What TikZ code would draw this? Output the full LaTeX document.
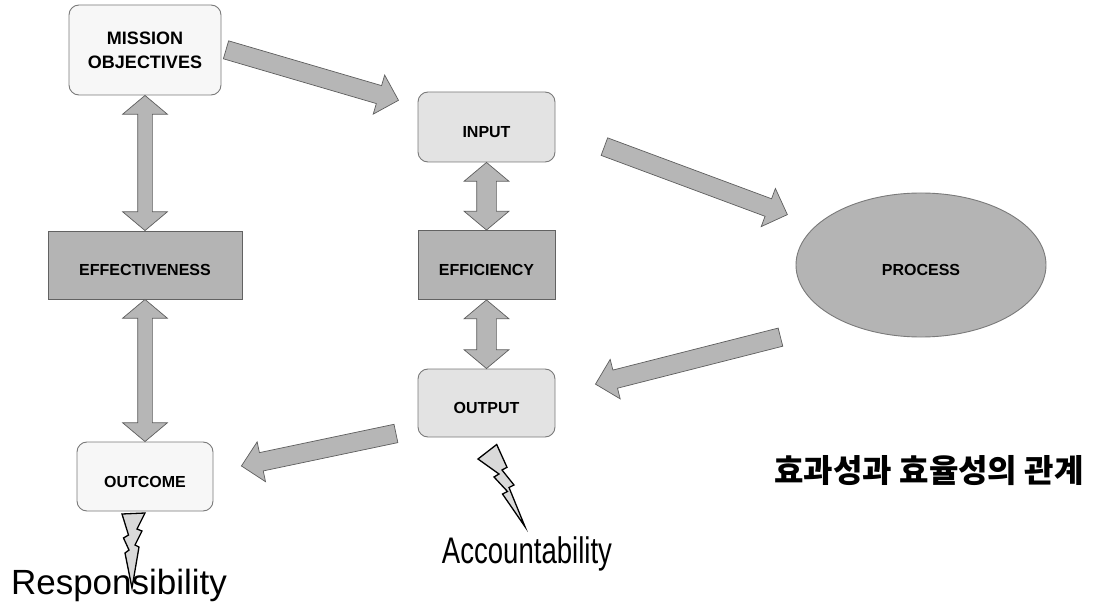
\documentclass[tikz,border=0pt]{standalone}
\usepackage{fontspec}
\setmainfont{Liberation Sans}
\newfontfamily\kr{Noto Sans CJK KR}
\newfontfamily\narrowA{Liberation Sans}[FakeStretch=0.745]
\usetikzlibrary{shapes.geometric,shapes.arrows,calc}
\definecolor{paleFill}{HTML}{F7F7F7}
\definecolor{lightFill}{HTML}{E3E3E3}
\definecolor{darkFill}{HTML}{B4B4B4}
\definecolor{boxLine}{HTML}{7A7A7A}
\definecolor{arrowFill}{HTML}{B6B6B6}
\definecolor{arrowLine}{HTML}{5E5E5E}
\definecolor{boltFill}{HTML}{D9D9D9}
\tikzset{
  lbl/.style={font=\bfseries\fontsize{16}{18}\selectfont},
  lowtext/.style={text height=21pt, text depth=0pt},
  roundbox/.style={lbl, draw=boxLine, line width=0.9pt, rounded corners=10pt, inner sep=0pt},
  sqbox/.style={lbl, draw=boxLine!80!black, line width=0.9pt, fill=darkFill, inner sep=0pt, lowtext},
  barrow/.style={single arrow, draw=arrowLine, fill=arrowFill, line width=0.7pt,
    inner xsep=0pt, inner ysep=9pt, single arrow head extend=11pt, single arrow tip angle=90},
  dblarrow/.style={double arrow, draw=arrowLine, fill=arrowFill, line width=0.7pt,
    inner xsep=0pt, inner ysep=7pt, double arrow head extend=15pt, double arrow tip angle=100},
  dblarrowB/.style={dblarrow, inner ysep=9.5pt, double arrow head extend=12.5pt, double arrow tip angle=100},
  bolt/.style={draw=black, fill=boltFill, line width=1.3pt, line join=miter},
}
\newcommand\blockarrow[3]{%
  \path let \p1=($(#3)-(#2)$), \n1={atan2(\y1,\x1)}, \n2={veclen(\x1,\y1)} in
    node[#1, rotate=\n1, minimum height=\n2] at ($(#2)!0.5!(#3)$) {};}
\begin{document}
\begin{tikzpicture}[x=1pt,y=-1pt]
\useasboundingbox[fill=white] (0,0) rectangle (1093,604);

% boxes
\node[roundbox, fill=paleFill, minimum width=152pt, minimum height=90pt, align=center,
  font=\bfseries\fontsize{18}{24}\selectfont] (mission) at (145,50) {MISSION\\OBJECTIVES};
\node[roundbox, fill=lightFill, lowtext, minimum width=137pt, minimum height=70pt] (input) at (486.5,127) {INPUT};
\node[sqbox, minimum width=137pt, minimum height=69pt] (eff) at (486.5,265) {EFFICIENCY};
\node[roundbox, fill=lightFill, lowtext, minimum width=137pt, minimum height=68pt] (output) at (486.5,403) {OUTPUT};
\node[sqbox, minimum width=194pt, minimum height=68pt] (effect) at (145,265) {EFFECTIVENESS};
\node[roundbox, fill=paleFill, lowtext, minimum width=136pt, minimum height=69pt] (outcome) at (145,476.5) {OUTCOME};
\node[ellipse, lbl, lowtext, draw=boxLine, line width=0.9pt, fill=darkFill, minimum width=250pt, minimum height=144pt, inner sep=0pt] (process) at (921,265) {PROCESS};

% double arrows
\blockarrow{dblarrow}{mission.south}{effect.north}
\blockarrow{dblarrow}{effect.south}{outcome.north}
\blockarrow{dblarrowB}{input.south}{eff.north}
\blockarrow{dblarrowB}{eff.south}{output.north}

% block arrows
\coordinate (a1s) at (221.5,48.5);  \coordinate (a1e) at (394,99);
\coordinate (a2s) at (600,145);     \coordinate (a2e) at (783,213);
\coordinate (a3s) at (785,336);     \coordinate (a3e) at (600,383);
\coordinate (a4s) at (400.5,432.5); \coordinate (a4e) at (246,465);
\blockarrow{barrow}{a1s}{a1e}
\blockarrow{barrow}{a2s}{a2e}
\blockarrow{barrow}{a3s}{a3e}
\blockarrow{barrow}{a4s}{a4e}

% lightning bolts
\draw[bolt] (478,459) -- (496.7,444.5) -- (507,467.3) -- (502,470) -- (514,485) -- (509,487.5)
  -- (525,526.7) -- (502.5,494) -- (507.5,491.5) -- (494,477) -- (499,474) -- cycle;
\draw[bolt] (122,514) -- (145,513) -- (137,529) -- (142,531) -- (135,545) -- (139,547)
  -- (132,588) -- (125,553) -- (129,550) -- (123.5,538) -- (128.5,535) -- cycle;

% texts
\node[font=\narrowA\fontsize{37}{40}\selectfont, anchor=base, inner sep=0pt] (acc) at (527,563) {Accountability};
\node[font=\fontsize{35}{38}\selectfont, anchor=base, inner sep=0pt] (resp) at (119,594) {Responsibility};
\node[font=\kr\bfseries\fontsize{32}{36}\selectfont, inner sep=0pt] (title) at (929,471) {효과성과 효율성의 관계};
\end{tikzpicture}
\end{document}
